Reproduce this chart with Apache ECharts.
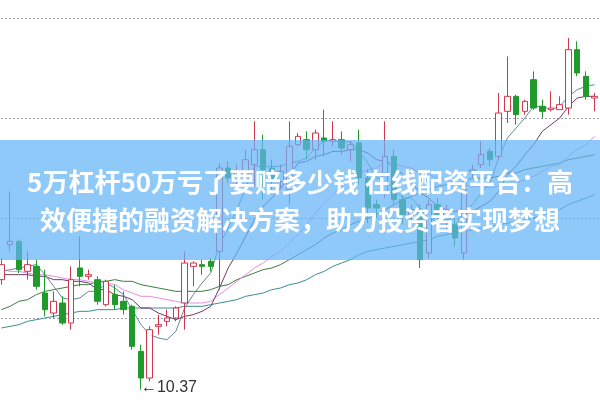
<!DOCTYPE html>
<html><head><meta charset="utf-8">
<script src="https://cdn.jsdelivr.net/npm/echarts@6/dist/echarts.min.js"></script>
<style>html,body{margin:0;padding:0;background:#fff;overflow:hidden}#c{width:600px;height:401px}</style>
</head><body><div id="c"></div>
<script>
const opens=[11.03,11.24,11.26,11.08,11.11,10.95,10.83,10.89,10.77,11.10,11.05,11.03,10.88,10.94,10.90,10.87,10.60,10.44,10.75,10.78,10.80,10.89,11.11,11.12,11.14,11.20,11.70,11.62,11.66,11.72,11.81,11.70,11.62,11.57,11.84,11.87,11.81,11.88,11.86,11.87,11.81,11.85,11.64,11.48,11.55,11.77,11.51,11.42,11.45,11.19,11.48,11.39,11.36,11.19,11.68,11.72,11.80,11.77,12.04,12.13,12.04,12.23,12.07,12.05,12.05,12.06,12.41,12.25,12.12];
const closes=[11.12,11.26,11.09,11.12,10.99,10.85,10.90,10.77,11.03,11.05,11.06,10.90,11.02,10.88,10.85,10.63,10.44,10.73,10.76,10.80,10.86,11.13,11.13,11.11,11.11,11.70,11.64,11.68,11.75,11.81,11.69,11.63,11.68,11.83,11.89,11.81,11.91,11.86,11.87,11.82,11.84,11.64,11.46,11.46,11.77,11.51,11.42,11.45,11.15,11.48,11.42,11.44,11.28,11.57,11.69,11.78,11.75,12.03,12.13,12.02,12.10,12.06,12.04,12.06,12.08,12.41,12.27,12.13,12.13];
const lows=[11.00,11.20,11.07,11.03,10.97,10.81,10.80,10.76,10.73,10.99,11.03,10.88,10.87,10.85,10.82,10.61,10.37,10.42,10.70,10.75,10.78,10.73,10.99,11.06,11.08,10.97,11.61,11.58,11.63,11.59,11.51,11.57,11.57,11.48,11.83,11.75,11.75,11.77,11.83,11.78,11.74,11.60,11.37,11.40,11.52,11.48,11.36,11.38,11.10,11.16,11.38,11.33,11.23,11.15,11.64,11.70,11.71,11.75,11.97,11.96,12.02,12.05,12.00,12.04,12.05,12.02,12.25,12.11,12.04];
const highs=[11.16,11.56,11.27,11.20,11.15,11.09,10.96,10.93,11.11,11.29,11.09,11.05,11.03,11.00,10.96,10.88,10.64,10.75,10.82,10.85,10.87,11.20,11.14,11.15,11.16,11.73,11.74,11.72,11.81,11.98,11.90,11.75,11.72,11.98,11.91,11.92,11.93,12.05,11.98,11.92,11.86,11.93,11.69,11.51,11.98,11.81,11.54,11.48,11.48,11.51,11.52,11.48,11.41,11.60,11.72,11.86,11.82,12.15,12.37,12.14,12.11,12.28,12.11,12.16,12.13,12.48,12.46,12.28,12.15];

const ma5=[11.08,11.09,11.10,11.11,11.12,11.06,10.99,10.92,10.91,10.92,10.96,10.96,11.01,10.98,10.94,10.85,10.76,10.70,10.68,10.67,10.72,10.86,10.94,11.01,11.07,11.24,11.34,11.45,11.58,11.71,11.71,11.71,11.71,11.73,11.74,11.76,11.82,11.86,11.87,11.85,11.86,11.80,11.73,11.64,11.63,11.57,11.52,11.52,11.46,11.40,11.38,11.39,11.35,11.44,11.48,11.55,11.61,11.76,11.88,11.94,12.00,12.07,12.07,12.05,12.07,12.13,12.17,12.19,12.20];
const ma10=[11.06,11.06,11.06,11.06,11.05,11.05,11.03,11.03,11.02,11.02,11.01,10.97,10.97,10.94,10.93,10.91,10.86,10.86,10.83,10.81,10.79,10.81,10.82,10.84,10.87,10.98,11.10,11.19,11.29,11.39,11.47,11.52,11.58,11.65,11.73,11.74,11.77,11.78,11.80,11.80,11.81,11.81,11.79,11.75,11.74,11.71,11.66,11.62,11.55,11.52,11.47,11.45,11.44,11.45,11.44,11.47,11.50,11.56,11.66,11.71,11.78,11.84,11.92,11.96,12.00,12.07,12.12,12.13,12.13];
const ma20=[11.09,11.08,11.08,11.07,11.06,11.06,11.05,11.04,11.03,11.03,11.02,11.01,11.01,11.00,10.97,10.95,10.93,10.93,10.92,10.91,10.90,10.89,10.89,10.89,10.90,10.94,10.98,11.02,11.06,11.10,11.13,11.17,11.20,11.25,11.30,11.36,11.43,11.49,11.54,11.59,11.64,11.67,11.69,11.70,11.74,11.73,11.71,11.70,11.67,11.66,11.64,11.63,11.61,11.60,11.59,11.59,11.58,11.59,11.60,11.61,11.63,11.65,11.68,11.71,11.72,11.77,11.81,11.84,11.89];
const ma30=[10.85,10.87,10.90,10.91,10.94,10.96,10.97,10.98,10.99,11.00,11.00,11.02,11.02,11.03,11.02,11.02,11.00,10.99,10.98,10.97,10.96,10.96,10.96,10.96,10.97,10.99,11.00,11.03,11.05,11.07,11.09,11.10,11.12,11.15,11.18,11.21,11.24,11.28,11.31,11.33,11.36,11.38,11.40,11.42,11.45,11.48,11.51,11.53,11.55,11.57,11.59,11.60,11.60,11.62,11.64,11.64,11.64,11.65,11.67,11.67,11.69,11.70,11.71,11.72,11.73,11.75,11.76,11.77,11.78];
const ma60=[10.74,10.75,10.76,10.78,10.79,10.80,10.81,10.82,10.83,10.84,10.84,10.85,10.85,10.85,10.86,10.86,10.86,10.86,10.86,10.86,10.86,10.87,10.87,10.87,10.88,10.89,10.90,10.91,10.93,10.94,10.95,10.97,10.98,11.00,11.01,11.03,11.06,11.08,11.11,11.13,11.15,11.18,11.20,11.21,11.22,11.23,11.24,11.25,11.26,11.27,11.29,11.30,11.31,11.32,11.33,11.34,11.35,11.36,11.37,11.37,11.39,11.40,11.42,11.43,11.45,11.48,11.50,11.52,11.54];

const yTicks=[10.2,10.8,11.4,12.0,12.6];
const bannerLines=['5万杠杆50万亏了要赔多少钱 在线配资平台：高','效便捷的融资解决方案，助力投资者实现梦想'];

const categories=opens.map((_,i)=>'D'+(i+1));
const kdata=opens.map((o,i)=>[o,closes[i],lows[i],highs[i]]);
let lowIdx=0;lows.forEach((v,i)=>{if(v<lows[lowIdx])lowIdx=i;});

const chart=echarts.init(document.getElementById('c'),null,{renderer:'canvas'});
function maSeries(name,data,color){
  return {name,type:'line',data,symbol:'none',smooth:false,z:1,
    lineStyle:{color,width:1},itemStyle:{color},silent:true};
}
chart.setOption({
  animation:false,
  backgroundColor:'#ffffff',
  grid:{left:-3,right:1,top:18,height:400,containLabel:false,outerBoundsMode:'none'},
  xAxis:{type:'category',data:categories,boundaryGap:true,
    axisLine:{show:false},axisTick:{show:false},axisLabel:{show:false},splitLine:{show:false}},
  yAxis:{type:'value',min:yTicks[0],max:yTicks[yTicks.length-1],interval:0.6,
    axisLine:{show:false},axisTick:{show:false},axisLabel:{show:false},
    splitLine:{show:true,lineStyle:{color:'#a0a0a0',type:[2,2],width:1}}},
  series:[
    maSeries('MA60',ma60,'#3a8f92'),
    maSeries('MA30',ma30,'#3d7d3d'),
    maSeries('MA20',ma20,'#e58fe5'),
    maSeries('MA10',ma10,'#6e3a6e'),
    maSeries('MA5',ma5,'#5e8d95'),
    {name:'K',type:'candlestick',data:kdata,barWidth:6,z:3,
      itemStyle:{color:'#ffffff',borderColor:'#d0364c',color0:'#1f9a2b',borderColor0:'#1f9a2b',borderWidth:1},
      markPoint:{symbol:'circle',symbolSize:0,
        data:[{coord:[lowIdx,lows[lowIdx]],value:lows[lowIdx]}],
        label:{show:true,position:'right',distance:0,offset:[0,-2],
          formatter:p=>'\u2190'+p.value.toFixed(2),
          color:'#333',fontSize:16,fontFamily:'Liberation Sans, Arial'}}
    }
  ],
  graphic:[
    {type:'rect',z:100,shape:{x:0,y:140,width:600,height:120},
      style:{fill:'rgba(100,180,248,0.72)'}},
    {type:'text',z:101,style:{text:bannerLines[0],x:300,y:182,align:'center',verticalAlign:'middle',
      fill:'#ffffff',font:'bold 26px "Noto Sans CJK SC"'}},
    {type:'text',z:101,style:{text:bannerLines[1],x:300,y:220,align:'center',verticalAlign:'middle',
      fill:'#ffffff',font:'bold 26px "Noto Sans CJK SC"'}}
  ]
});
</script></body></html>
